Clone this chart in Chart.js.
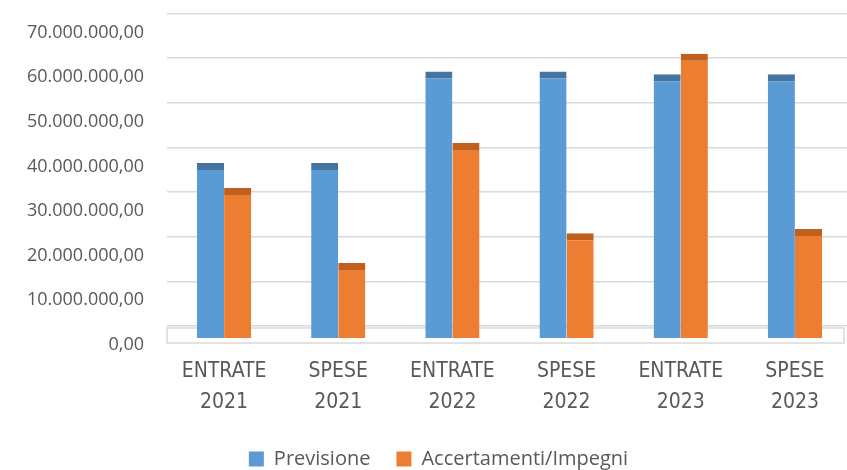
<!DOCTYPE html>
<html lang="it">
<head>
  <meta charset="UTF-8">
  <title>Previsione e Accertamenti/Impegni</title>
  <script src="https://cdn.jsdelivr.net/npm/chart.js"></script>
  <style>
    body {
      margin: 0;
      padding: 0;
      background: #fff;
    }
    .chart-container {
      position: relative;
      width: 847px;
      height: 470px;
    }
  </style>
</head>
<body>
  <div class="chart-container">
    <canvas id="bilancioChart"></canvas>
  </div>

  <script>
    // Dati
    const categorie = [
      ['ENTRATE', '2021'], ['SPESE', '2021'],
      ['ENTRATE', '2022'], ['SPESE', '2022'],
      ['ENTRATE', '2023'], ['SPESE', '2023']
    ];
    const previsione = [39200000, 39200000, 59700000, 59700000, 59100000, 59100000];
    const accertamenti = [33600000, 16800000, 43700000, 23500000, 63700000, 24400000];
    const tickValori = [0, 10000000, 20000000, 30000000, 40000000, 50000000, 60000000, 70000000];

    // formato italiano: 70.000.000,00
    function formatoIt(v) {
      return Math.round(v).toString().replace(/\B(?=(\d{3})+(?!\d))/g, '.') + ',00';
    }

    const testo = '#595959';
    const profondita = 2700000; // spostamento della parete di fondo (effetto 3D)

    // Pavimento del grafico 3D, asse x un po' oltre il bordo destro, legenda spostata
    const pavimentoPlugin = {
      id: 'pavimento',
      afterLayout(chart) {
        const x = chart.scales.x;
        x.right += 5;
        x.width += 5;
        x.configure();
        chart.legend.left += 15;
        chart.legend.right += 15;
      },
      beforeDatasetsDraw(chart) {
        const { ctx, chartArea, scales } = chart;
        const top = scales.griglia.getPixelForValue(0) + 2;
        const bottom = scales.y.getPixelForValue(0) + 5;
        ctx.save();
        ctx.strokeStyle = '#d9d9d9';
        ctx.lineWidth = 1.5;
        ctx.strokeRect(chartArea.left, top, chartArea.right - chartArea.left - 3, bottom - top);
        ctx.restore();
      }
    };

    new Chart(document.getElementById('bilancioChart'), {
      type: 'bar',
      data: {
        labels: categorie,
        datasets: [{
          label: 'Previsione',
          data: previsione,
          backgroundColor: '#5b9bd5',
          borderColor: '#44749f',
          borderWidth: { top: 7, right: 0, bottom: 0, left: 0 },
          categoryPercentage: 0.475,
          barPercentage: 1.0
        }, {
          label: 'Accertamenti/Impegni',
          data: accertamenti,
          backgroundColor: '#ed7d31',
          borderColor: '#c0601f',
          borderWidth: { top: 7, right: 0, bottom: 0, left: 0 },
          categoryPercentage: 0.475,
          barPercentage: 1.0
        }]
      },
      options: {
        responsive: true,
        maintainAspectRatio: false,
        animation: false,
        layout: {
          padding: { top: 10, right: 0, bottom: 0, left: 0 }
        },
        scales: {
          x: {
            grid: { display: false, drawTicks: false },
            border: { display: false },
            ticks: {
              color: testo,
              font: { family: "'Liberation Sans Narrow', 'DejaVu Sans Condensed', sans-serif", size: 21, lineHeight: 1.48 },
              padding: 18,
              maxRotation: 0,
              autoSkip: false
            },
            afterFit(scale) { scale.height = 85; }
          },
          y: {
            min: 0,
            max: 73500000,
            grid: { display: false, drawTicks: false },
            border: { display: false },
            afterBuildTicks(scale) { scale.ticks = tickValori.map(v => ({ value: v })); },
            afterFit(scale) {
              scale.width = 167;
              scale.paddingTop = 0;
              scale.paddingBottom = 0;
            },
            ticks: {
              color: testo,
              font: { family: "'Open Sans', sans-serif", size: 18 },
              padding: 23,
              labelOffset: 7,
              callback: (v) => formatoIt(v)
            }
          },
          griglia: {
            type: 'linear',
            position: 'left',
            min: -profondita,
            max: 73500000 - profondita,
            grid: { color: '#d9d9d9', lineWidth: 1.5, drawTicks: false },
            border: { display: false },
            afterBuildTicks(scale) { scale.ticks = tickValori.map(v => ({ value: v })); },
            afterFit(scale) {
              scale.width = 0;
              scale.paddingTop = 0;
              scale.paddingBottom = 0;
            },
            ticks: { display: false }
          }
        },
        plugins: {
          legend: {
            position: 'bottom',
            maxHeight: 47,
            labels: {
              color: testo,
              font: { family: "'Open Sans', sans-serif", size: 20 },
              boxWidth: 15,
              boxHeight: 15,
              padding: 26,
              generateLabels(chart) {
                return Chart.defaults.plugins.legend.labels.generateLabels(chart)
                  .map(l => ({ ...l, lineWidth: 0, strokeStyle: l.fillStyle }));
              }
            }
          },
          tooltip: { enabled: false }
        }
      },
      plugins: [pavimentoPlugin]
    });
  </script>
</body>
</html>
